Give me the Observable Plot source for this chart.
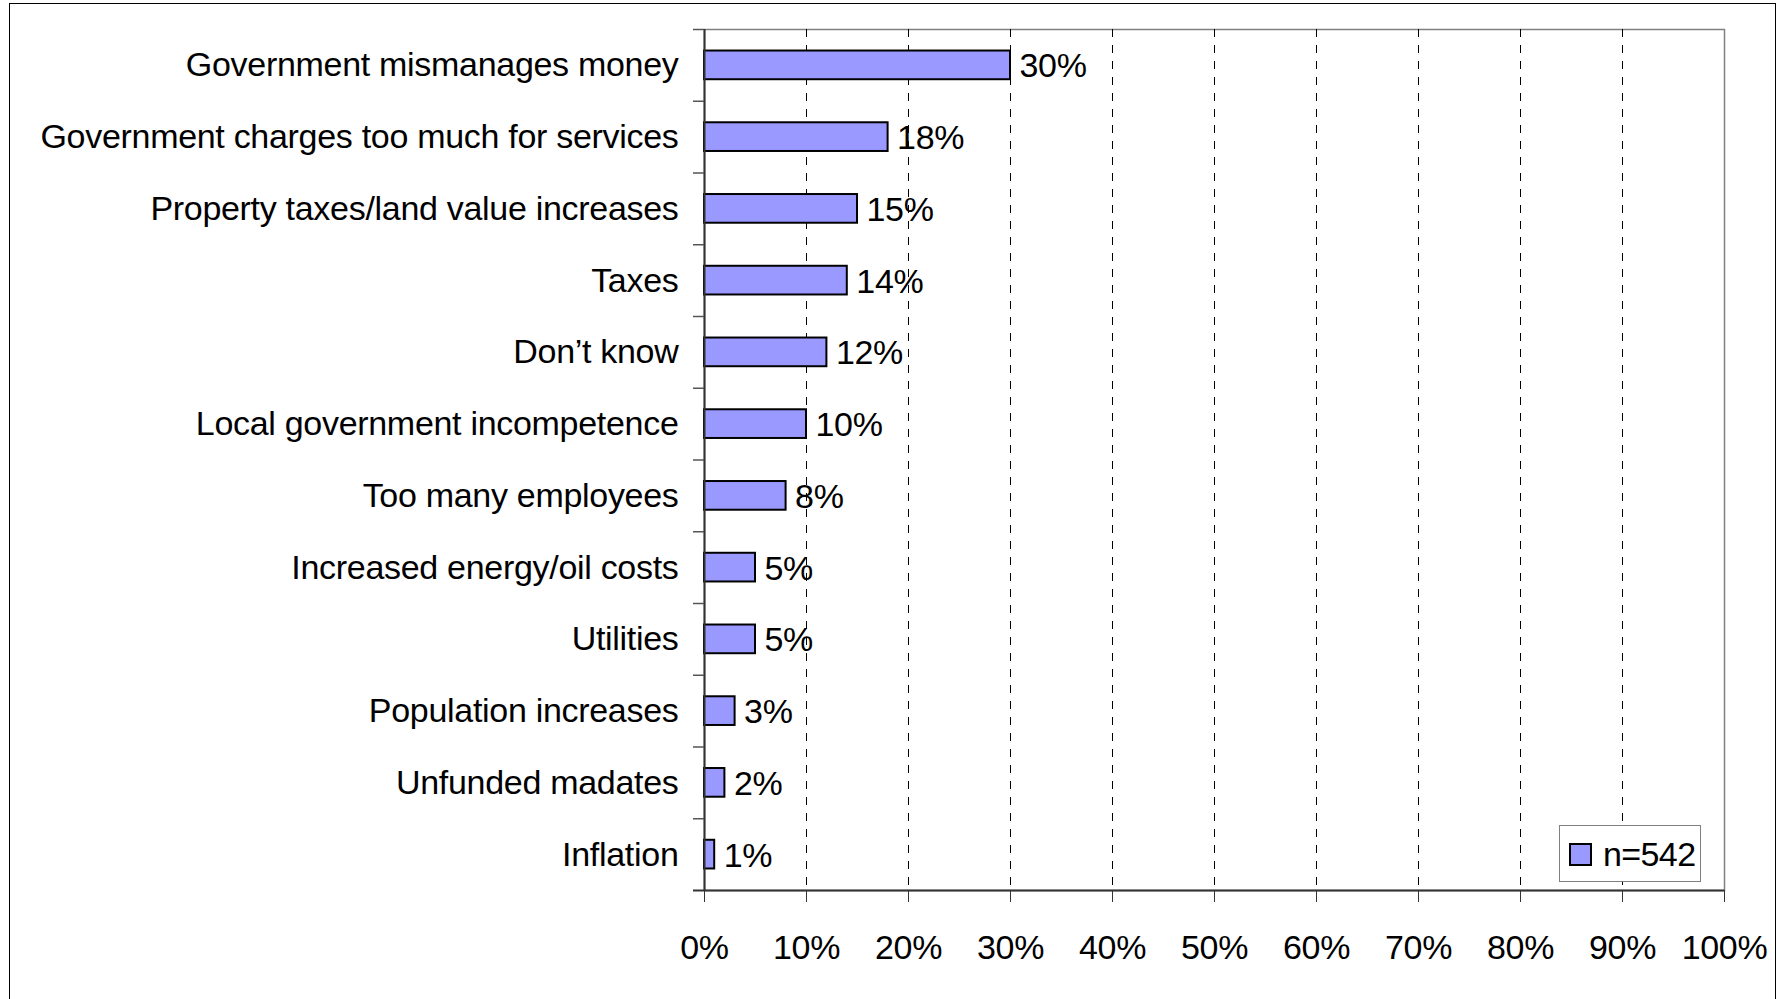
<!DOCTYPE html>
<html>
<head>
<meta charset="utf-8">
<script src="https://cdn.jsdelivr.net/npm/d3@7"></script>
<script src="https://cdn.jsdelivr.net/npm/@observablehq/plot@0.6"></script>
<style>
  html, body { margin: 0; padding: 0; background: #fff; overflow: hidden; }
  #wrap { position: relative; width: 1780px; height: 999px; font-family: "Liberation Sans", Arial, sans-serif; }
  #chart svg text { letter-spacing: -0.3px; }
  #frame { position: absolute; left: 9px; top: 3px; width: 1765px; height: 1010px; border: 1.5px solid #000; pointer-events: none; }
  #legend { position: absolute; left: 1559px; top: 825px; width: 131px; height: 55px; border: 1.5px solid #808080; background: #fff;
            display: flex; align-items: center; padding-left: 9px; box-sizing: content-box; }
  #legend .sw { width: 19px; height: 19px; border: 2px solid #000; background: #9999FF; margin-right: 11px; margin-top: 2px; }
  #legend span { font-size: 34px; color: #000; line-height: 1; letter-spacing: -0.6px; }
</style>
</head>
<body>
<div id="wrap">
  <div id="chart"></div>
  <div id="legend"><div class="sw"></div><span>n=542</span></div>
  <div id="frame"></div>
</div>
<script>
const categories = [
  "Government mismanages money",
  "Government charges too much for services",
  "Property taxes/land value increases",
  "Taxes",
  "Don\u2019t know",
  "Local government incompetence",
  "Too many employees",
  "Increased energy/oil costs",
  "Utilities",
  "Population increases",
  "Unfunded madates",
  "Inflation"
];
const values = [30, 18, 15, 14, 12, 10, 8, 5, 5, 3, 2, 1];
const xTicks = [0, 10, 20, 30, 40, 50, 60, 70, 80, 90, 100];
const gridTicks = [10, 20, 30, 40, 50, 60, 70, 80, 90];

const data = categories.map((c, i) => ({category: c, value: values[i]}));

const W = 1780, H = 999;
const mL = 704, mR = 56, mT = 29, mB = 109;
const step = (H - mT - mB) / categories.length;
const font = "Liberation Sans, Arial, sans-serif";

const chart = Plot.plot({
  width: W,
  height: H,
  marginLeft: mL,
  marginRight: mR,
  marginTop: mT,
  marginBottom: mB,
  style: {fontFamily: font, fontSize: "34px", background: "none", color: "#000"},
  x: {domain: [0, 100]},
  y: {domain: categories, paddingInner: 0.6, paddingOuter: 0.3, align: 0.5, round: false},
  marks: [
    Plot.frame({stroke: "#808080", strokeWidth: 1.5}),
    Plot.ruleX(gridTicks, {stroke: "#000", strokeWidth: 1, strokeDasharray: "8,8"}),
    Plot.barX(data, {x: "value", y: "category", fill: "#9999FF", stroke: "#000", strokeWidth: 2}),
    Plot.text(data, {x: "value", y: "category", text: d => d.value + "%", textAnchor: "start", dx: 9, dy: 1, fontSize: 34, fill: "#000", fontFamily: font}),
    Plot.ruleX([0], {stroke: "#333", strokeWidth: 2}),
    Plot.ruleY(categories, {y: d => d, x1: 0, x2: 0, insetLeft: -11, dy: -step / 2, stroke: "#555", strokeWidth: 1.5}),
    Plot.ruleY([categories[categories.length - 1]], {y: d => d, x1: 0, x2: 100, insetLeft: -11, dy: step / 2, stroke: "#333", strokeWidth: 2}),
    Plot.axisX({ticks: xTicks, tickFormat: d => d + "%", tickSize: 12, tickPadding: 32, fontSize: 34, label: null, fontFamily: font, stroke: "#333"}),
    Plot.axisY({tickSize: 0, tickPadding: 26, fontSize: 34, label: null, fontFamily: font})
  ]
});
document.getElementById("chart").appendChild(chart);
</script>
</body>
</html>
